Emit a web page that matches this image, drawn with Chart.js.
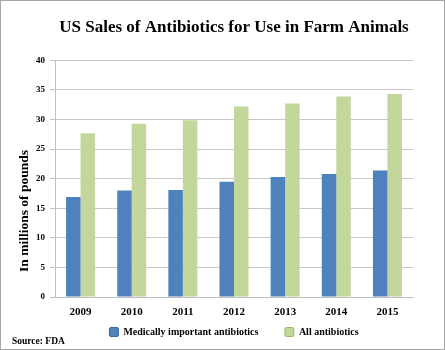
<!DOCTYPE html>
<html>
<head>
<meta charset="utf-8">
<script src="https://cdn.jsdelivr.net/npm/chart.js@4"></script>
<style>
html,body{margin:0;padding:0;background:#fff;}
#wrap{width:445px;height:350px;position:relative;}
</style>
</head>
<body>
<div id="wrap"><canvas id="c" width="445" height="350"></canvas></div>
<script>
const categories = ['2009','2010','2011','2012','2013','2014','2015'];
const medicallyImportant = [16.9, 18.0, 18.1, 19.5, 20.3, 20.8, 21.4];
const allAntibiotics = [27.7, 29.3, 29.9, 32.2, 32.7, 33.9, 34.3];
const seriesNames = ['Medically important antibiotics', 'All antibiotics'];
const titleText = 'US Sales of Antibiotics for Use in Farm Animals';
const yAxisTitle = 'In millions of pounds';
const sourceText = 'Source: FDA';

const SERIF = '"Liberation Serif", "DejaVu Serif", serif';
const legendStroke = ['#3a6596', '#9ab765'];

const extras = {
  id: 'extras',
  beforeDraw(chart) {
    const ctx = chart.ctx;
    ctx.save();
    ctx.fillStyle = '#fff';
    ctx.fillRect(0, 0, chart.width, chart.height);
    ctx.restore();
  },
  afterDraw(chart) {
    const ctx = chart.ctx;
    ctx.save();
    ctx.strokeStyle = '#a6a6a6';
    ctx.lineWidth = 1;
    ctx.strokeRect(0.5, 0.5, chart.width - 1, chart.height - 1);
    ctx.fillStyle = '#000';
    ctx.font = 'bold 13.5px ' + SERIF;
    ctx.textAlign = 'center';
    ctx.textBaseline = 'middle';
    ctx.translate(25, 211);
    ctx.rotate(-Math.PI / 2);
    ctx.fillText(yAxisTitle, 0, 0);
    ctx.restore();
    ctx.save();
    ctx.fillStyle = '#000';
    ctx.font = 'bold 9.5px ' + SERIF;
    ctx.textAlign = 'left';
    ctx.textBaseline = 'middle';
    ctx.fillText(sourceText, 12, 342);
    ctx.restore();
  }
};

new Chart(document.getElementById('c'), {
  type: 'bar',
  data: {
    labels: categories,
    datasets: [
      { label: seriesNames[0], data: medicallyImportant, backgroundColor: '#4F81BD', borderWidth: 0 },
      { label: seriesNames[1], data: allAntibiotics, backgroundColor: '#C3D69B', borderWidth: 0 }
    ]
  },
  options: {
    responsive: false,
    animation: false,
    devicePixelRatio: 1,
    layout: { padding: { left: 0, right: 32, top: 0, bottom: 3 } },
    datasets: { bar: { categoryPercentage: 0.567, barPercentage: 1.0 } },
    plugins: {
      title: {
        display: true,
        text: titleText,
        fullSize: false,
        color: '#000',
        font: { family: SERIF, size: 17, weight: 'bold' },
        padding: { top: 17, bottom: 23 }
      },
      legend: {
        display: true,
        position: 'bottom',
        fullSize: false,
        labels: {
          color: '#000',
          font: { family: SERIF, size: 10, weight: 'bold' },
          boxWidth: 9,
          boxHeight: 9,
          padding: 4,
          useBorderRadius: true,
          generateLabels(chart) {
            const items = Chart.defaults.plugins.legend.labels.generateLabels(chart);
            items.forEach((it, i) => {
              it.strokeStyle = legendStroke[i];
              it.lineWidth = 1;
              it.borderRadius = 1.5;
              if (i < items.length - 1) it.text = it.text + '\u2002\u2002\u2002\u2002 ';
            });
            return items;
          }
        }
      },
      tooltip: { enabled: false }
    },
    scales: {
      x: {
        grid: { display: false, drawTicks: false },
        border: { display: true, color: '#bfbfbf' },
        ticks: { color: '#000', font: { family: SERIF, size: 11, weight: 'bold' }, padding: 9, maxRotation: 0 },
        afterFit(scale) { scale.height = 26; }
      },
      y: {
        min: 0, max: 40,
        ticks: { stepSize: 5, color: '#000', font: { family: SERIF, size: 9, weight: 'bold' }, padding: 5 },
        grid: { color: '#c8c8c8', tickLength: 5, tickColor: '#bfbfbf' },
        border: { display: true, color: '#bfbfbf' },
        afterFit(scale) { scale.width = 55; }
      }
    }
  },
  plugins: [extras]
});
</script>
</body>
</html>
